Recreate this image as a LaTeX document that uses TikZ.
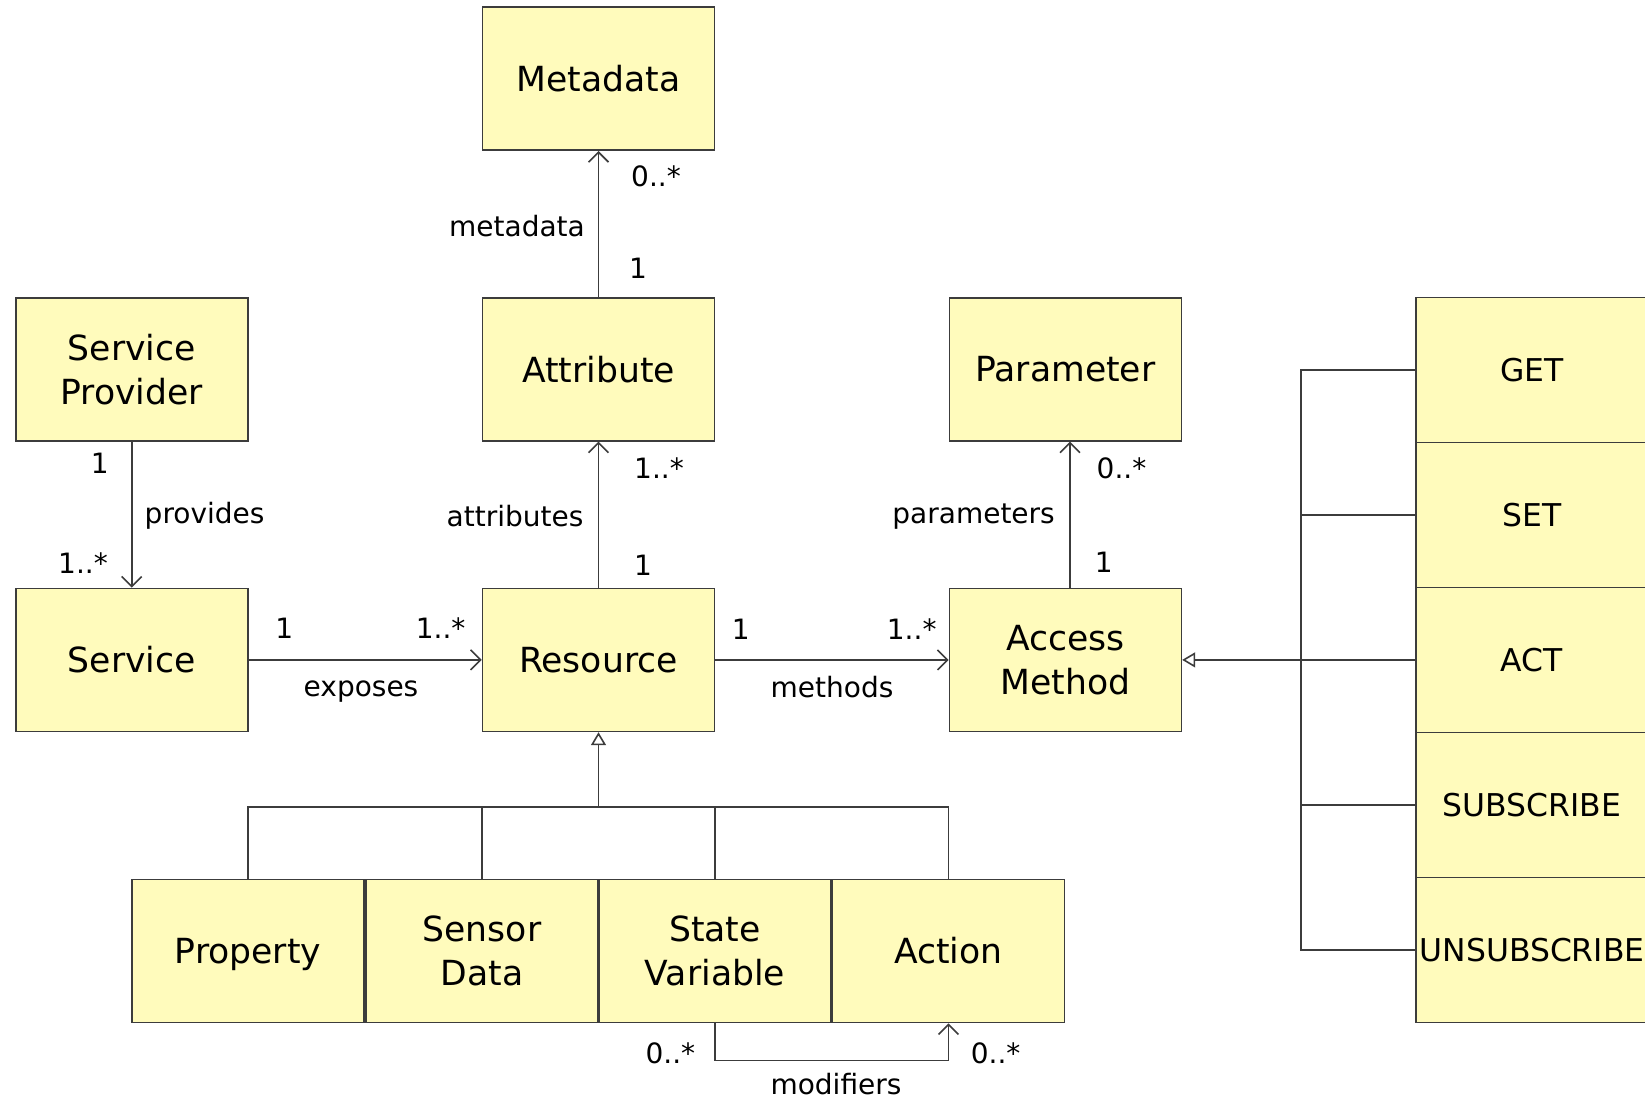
\documentclass[tikz,border=0pt]{standalone}
\usepackage{fontspec}
\setmainfont{DejaVu Sans}
\usetikzlibrary{arrows.meta}
\definecolor{boxfill}{RGB}{255,251,188}
\definecolor{edge}{RGB}{60,60,60}
\begin{document}
\begin{tikzpicture}[x=0.5pt,y=-0.5pt,
  cls/.style={draw=edge, fill=boxfill, line width=0.8pt, minimum width=116pt,
    minimum height=71.5pt, inner sep=0pt, align=center,
    font=\fontsize{17.3}{22}\selectfont},
  op/.style={cls, minimum height=72.5pt, font=\fontsize{15.7}{20}\selectfont},
  lbl/.style={inner sep=0pt, font=\fontsize{14}{17}\selectfont},
  conn/.style={draw=edge, line width=0.8pt},
  assoc/.style={conn, -{Straight Barb[length=5pt,width=10pt,line width=0.8pt]}},
  gen/.style={conn, -{Triangle[open,length=6.5pt,width=7.5pt,fill=white,line width=0.8pt]}},
]
\useasboundingbox (0,0) rectangle (1645,1098);
\clip (0,0) rectangle (1645,1098);

% classes
\node[cls] (meta)   at (598.5,78.7)  {Metadata};
\node[cls] (sp)     at (131.7,369.3) {Service\\Provider};
\node[cls] (attr)   at (598.5,369.3) {Attribute};
\node[cls] (param)  at (1065.4,369.3) {Parameter};
\node[cls] (svc)    at (131.7,659.9) {Service};
\node[cls] (res)    at (598.5,659.9) {Resource};
\node[cls] (am)     at (1065.4,659.9) {Access\\Method};
\node[cls, text depth=0pt] (prop) at (248,951) {Property};
\node[cls] (sens)   at (482,951)   {Sensor\\Data};
\node[cls] (state)  at (715,951)   {State\\Variable};
\node[cls] (action) at (948.5,951) {Action};

% access method kinds
\node[op] (opget)   at (1532,370)   {GET};
\node[op] (opset)   at (1532,515)   {SET};
\node[op] (opact)   at (1532,659.9) {ACT};
\node[op] (opsub)   at (1532,805)   {SUBSCRIBE};
\node[op] (opunsub) at (1532,950)   {UNSUBSCRIBE};

% associations
\draw[assoc] (attr.north) -- (meta.south);
\draw[assoc] (sp.south) -- (svc.north);
\draw[assoc] (res.north) -- (attr.south);
\draw[assoc] ([xshift=2.3pt]am.north) -- ([xshift=2.3pt]param.south);
\draw[assoc] (svc.east) -- (res.west);
\draw[assoc] (res.east) -- (am.west);

\coordinate (mods) at (0,1060.4);
\draw[assoc] (state.south) -- (state.south |- mods) -- (action.south |- mods) -- (action.south);

% resource specialisations
\coordinate (gbar) at (598.5,806.8);
\draw[conn] (prop.north) |- (action.north |- gbar) -- (action.north);
\draw[conn] (sens.north) -- (sens.north |- gbar);
\draw[conn] (state.north) -- (state.north |- gbar);
\draw[gen] (gbar) -- (res.south);

% access method specialisations
\coordinate (rbar) at (1300.8,0);
\draw[conn] (opget.west) -| (rbar |- opunsub.west) -- (opunsub.west);
\draw[conn] (opset.west) -- (opset.west -| rbar);
\draw[conn] (opsub.west) -- (opsub.west -| rbar);
\draw[gen] (opact.west) -- (am.east);

% role names and multiplicities
\node[lbl] at (656,176)    {0..*};
\node[lbl] at (517,225.6)  {metadata};
\node[lbl] at (638,268.6)  {1};

\node[lbl] at (99.7,463.7) {1};
\node[lbl] at (204.6,516)  {provides};
\node[lbl] at (83,563.4)   {1..*};

\node[lbl] at (659,468)    {1..*};
\node[lbl] at (515,516)    {attributes};
\node[lbl] at (643,565.5)  {1};

\node[lbl] at (1121.5,468) {0..*};
\node[lbl] at (973.6,517)  {parameters};
\node[lbl] at (1103.7,562) {1};

\node[lbl] at (284.3,628.4) {1};
\node[lbl] at (440.6,628.4) {1..*};
\node[lbl] at (361,691.5)   {exposes};

\node[lbl] at (740.7,629.5) {1};
\node[lbl] at (911.7,629.5) {1..*};
\node[lbl] at (832,687)     {methods};

\node[lbl] at (670.4,1053.3) {0..*};
\node[lbl] at (995.6,1053.3) {0..*};
\node[lbl] at (836,1083.7)   {modifiers};
\end{tikzpicture}
\end{document}
